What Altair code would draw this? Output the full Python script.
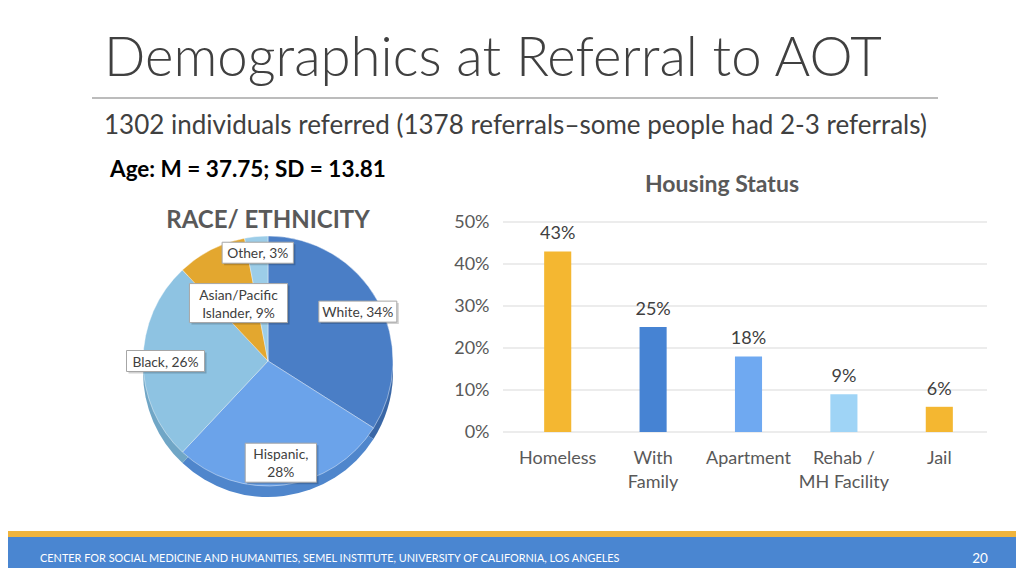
import altair as alt
import pandas as pd

# ---------------- data ----------------
title_text = "Demographics at Referral to AOT"
subtitle_text = "1302 individuals referred (1378 referrals\u2013some people had 2-3 referrals)"
age_text = "Age: M = 37.75; SD = 13.81"
race_title = "RACE/ ETHNICITY"
housing_title = "Housing Status"
footer_text = "CENTER FOR SOCIAL MEDICINE AND HUMANITIES, SEMEL INSTITUTE, UNIVERSITY OF CALIFORNIA, LOS ANGELES"
page_number = "20"

race_groups = ["White", "Hispanic", "Black", "Asian/Pacific Islander", "Other"]
race_shares = [0.34, 0.28, 0.26, 0.09, 0.03]
race_labels = ["White, 34%", "Hispanic,\n28%", "Black, 26%", "Asian/Pacific\nIslander, 9%", "Other, 3%"]

housing_categories = ["Homeless", "With Family", "Apartment", "Rehab / MH Facility", "Jail"]
housing_shares = [0.43, 0.25, 0.18, 0.09, 0.06]
housing_tick_labels = ["Homeless", "With\nFamily", "Apartment", "Rehab /\nMH Facility", "Jail"]
y_ticks = [0.0, 0.1, 0.2, 0.3, 0.4, 0.5]

# ---------------- styles ----------------
FONT = "Lato"
W, H = 1008, 560
CX, CY, R = 260, 353, 125
pie_colors = ["#4a7ec6", "#6ba3ea", "#8ec3e2", "#e3a72f", "#9ccde8"]
side_colors = ["#3a67a6", "#4f86cc", "#70a6c6", "#b9861f", "#7fb0cc"]
bar_colors = ["#f4b731", "#4683d3", "#6fa9f1", "#9fd4f6", "#f4b731"]

one = pd.DataFrame({"k": [0]})


def text_layer(txt, x, y, size, weight="normal", color="#404040", align="left"):
    return alt.Chart(pd.DataFrame({"t": [txt]})).mark_text(
        align=align, baseline="alphabetic", fontSize=size, fontWeight=weight,
        color=color, font=FONT
    ).encode(x=alt.value(x), y=alt.value(y), text="t:N")


# slide decorations
title = text_layer(title_text, 96, 68, 54.5, weight=300, color="#404040")
rule = alt.Chart(one).mark_rule(color="#a6a6a6", strokeWidth=1.5).encode(
    x=alt.value(84), x2=alt.value(930), y=alt.value(90))
subtitle = text_layer(subtitle_text, 96, 126, 26, color="#404040")
age = text_layer(age_text, 102, 169, 22.5, weight="bold", color="#000000")
race_t = text_layer(race_title, CX, 220, 24, weight="bold", color="#595959", align="center")
housing_t = text_layer(housing_title, 714, 184, 23, weight="bold", color="#595959", align="center")
gold_band = alt.Chart(one).mark_rect(color="#f0b43c").encode(
    x=alt.value(0), x2=alt.value(W), y=alt.value(523), y2=alt.value(530))
blue_band = alt.Chart(one).mark_rect(color="#4a86d1").encode(
    x=alt.value(0), x2=alt.value(W), y=alt.value(529), y2=alt.value(H))
footer = text_layer(footer_text, 32, 554, 10.9, color="#ffffff")
page = text_layer(page_number, 972, 555, 13.5, color="#ffffff", align="center")

# ---------------- pie ----------------
pie_df = pd.DataFrame({
    "group": race_groups,
    "share": race_shares,
    "label": race_labels,
    "idx": list(range(len(race_groups))),
})
pie_df["box_w"] = [max(len(s) for s in lab.split("\n")) * 6.7 + 11 for lab in race_labels]
pie_df["box_h"] = [len(lab.split("\n")) * 18 + 3 for lab in race_labels]

pie_base = alt.Chart(pie_df).encode(
    theta=alt.Theta("share:Q", stack=True),
    order=alt.Order("idx:Q"),
)
pie_side = pie_base.mark_arc(radius=R).encode(
    color=alt.Color("group:N", scale=alt.Scale(domain=race_groups, range=side_colors), legend=None),
    x=alt.value(CX), y=alt.value(CY + 11),
)
pie_top = pie_base.mark_arc(radius=R, stroke="#ffffff", strokeWidth=0.7, strokeOpacity=0.6).encode(
    color=alt.Color("group:N", scale=alt.Scale(domain=race_groups, range=pie_colors), legend=None),
    x=alt.value(CX), y=alt.value(CY),
)

lab_base = alt.Chart(pie_df).transform_window(
    cum="sum(share)", sort=[alt.SortField("idx")]
).transform_joinaggregate(
    total="sum(share)"
).transform_calculate(
    mid="(datum.cum - datum.share / 2) / datum.total",
    lr=f"datum.share < 0.05 ? {R * 0.87} : (datum.share < 0.1 ? {R * 0.52} : {R * 0.82})",
).transform_calculate(
    lx=f"{CX} + datum.lr * sin(2 * PI * datum.mid)",
    ly=f"{CY} - datum.lr * cos(2 * PI * datum.mid)",
).transform_calculate(
    bx1="datum.lx - datum.box_w / 2",
    bx2="datum.lx + datum.box_w / 2",
    by1="datum.ly - datum.box_h / 2",
    by2="datum.ly + datum.box_h / 2",
    sx1="datum.lx - datum.box_w / 2 + 2",
    sx2="datum.lx + datum.box_w / 2 + 2",
    sy1="datum.ly - datum.box_h / 2 + 2",
    sy2="datum.ly + datum.box_h / 2 + 2",
    ty="datum.ly - datum.box_h / 2 + 3",
)
shadow = lab_base.mark_rect(color="#000000", opacity=0.18).encode(
    x=alt.X("sx1:Q", scale=None, axis=None), x2="sx2:Q",
    y=alt.Y("sy1:Q", scale=None, axis=None), y2="sy2:Q",
)
boxes = lab_base.mark_rect(fill="#ffffff", stroke="#a6a6a6", strokeWidth=1).encode(
    x=alt.X("bx1:Q", scale=None, axis=None), x2="bx2:Q",
    y=alt.Y("by1:Q", scale=None, axis=None), y2="by2:Q",
)
labels = lab_base.mark_text(
    font=FONT, fontSize=13.8, color="#404040", lineBreak="\n", lineHeight=18,
    align="center", baseline="line-top"
).encode(
    x=alt.X("lx:Q", scale=None, axis=None),
    y=alt.Y("ty:Q", scale=None, axis=None),
    text="label:N",
)

# ---------------- bars ----------------
bar_df = pd.DataFrame({
    "cat": housing_categories,
    "share": housing_shares,
    "tick": housing_tick_labels,
})
tick_df = pd.DataFrame({"t": y_ticks})

xs = alt.Scale(domain=housing_categories, range=[502, 979], paddingInner=0.716, paddingOuter=0.358)
ys = alt.Scale(domain=[0, 0.5], range=[424, 214], nice=False, zero=True)
yaxis = alt.Axis(
    orient="left", offset=-495, values=y_ticks, format=".0%", domain=False, ticks=False,
    tickSize=0, grid=False, labelPadding=14, labelFont=FONT, labelFontSize=18,
    labelColor="#595959", title=None,
)

grid = alt.Chart(tick_df).mark_rule(color="#d9d9d9", strokeWidth=1).encode(
    y=alt.Y("t:Q", scale=ys, axis=yaxis),
    x=alt.value(495), x2=alt.value(979),
)
bars = alt.Chart(bar_df).mark_bar().encode(
    x=alt.X("cat:N", scale=xs, sort=housing_categories, axis=None),
    y=alt.Y("share:Q", scale=ys, axis=yaxis),
    color=alt.Color("cat:N", scale=alt.Scale(domain=housing_categories, range=bar_colors), legend=None),
)
values = alt.Chart(bar_df).mark_text(
    font=FONT, fontSize=18, color="#404040", baseline="bottom", dy=-8
).encode(
    x=alt.X("cat:N", scale=xs, sort=housing_categories, axis=None),
    y=alt.Y("share:Q", scale=ys, axis=yaxis),
    text=alt.Text("share:Q", format=".0%"),
)
ticks = alt.Chart(bar_df).mark_text(
    font=FONT, fontSize=18, color="#595959", baseline="top", lineBreak="\n", lineHeight=24
).encode(
    x=alt.X("cat:N", scale=xs, sort=housing_categories, axis=None),
    y=alt.value(442),
    text="tick:N",
)
bar_group = alt.layer(grid, bars, values, ticks)

chart = alt.layer(
    title, rule, subtitle, age, race_t, housing_t, gold_band, blue_band, footer, page,
    pie_side, pie_top, shadow, boxes, labels, bar_group,
).resolve_scale(
    x="independent", y="independent", color="independent"
).properties(
    width=W, height=H, autosize=alt.AutoSizeParams(type="none"), padding=0,
    background="#ffffff",
).configure_view(stroke=None)

chart.save("out.html", embed_options={"renderer": "svg", "actions": False})
